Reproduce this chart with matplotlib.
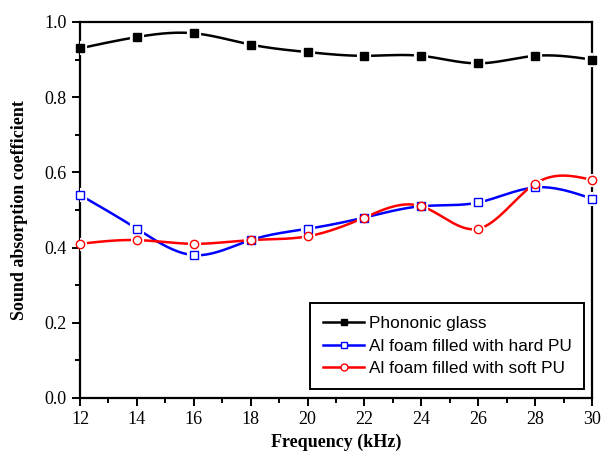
import numpy as np
import matplotlib.pyplot as plt
from matplotlib.ticker import MultipleLocator

freq = [12, 14, 16, 18, 20, 22, 24, 26, 28, 30]
phononic = [0.93, 0.96, 0.97, 0.94, 0.92, 0.91, 0.91, 0.89, 0.91, 0.90]
hard_pu = [0.54, 0.45, 0.38, 0.42, 0.45, 0.48, 0.51, 0.52, 0.56, 0.53]
soft_pu = [0.41, 0.42, 0.41, 0.42, 0.43, 0.48, 0.51, 0.45, 0.57, 0.58]


def spline(x, y, n=300):
    # natural cubic spline through the points, for the smooth connecting line
    x = np.asarray(x, float)
    y = np.asarray(y, float)
    h = np.diff(x)
    k = len(x)
    A = np.zeros((k, k))
    b = np.zeros(k)
    A[0, 0] = A[-1, -1] = 1
    for i in range(1, k - 1):
        A[i, i - 1] = h[i - 1]
        A[i, i] = 2 * (h[i - 1] + h[i])
        A[i, i + 1] = h[i]
        b[i] = 6 * ((y[i + 1] - y[i]) / h[i] - (y[i] - y[i - 1]) / h[i - 1])
    M = np.linalg.solve(A, b)
    xs = np.linspace(x[0], x[-1], n)
    idx = np.clip(np.searchsorted(x, xs) - 1, 0, k - 2)
    x0, x1 = x[idx], x[idx + 1]
    hh = x1 - x0
    ys = (M[idx] * (x1 - xs) ** 3 / (6 * hh) + M[idx + 1] * (xs - x0) ** 3 / (6 * hh)
          + (y[idx] / hh - M[idx] * hh / 6) * (x1 - xs)
          + (y[idx + 1] / hh - M[idx + 1] * hh / 6) * (xs - x0))
    return xs, ys


fig = plt.figure(figsize=(6.03, 4.63), dpi=100)
ax = fig.add_axes([0.1327, 0.1404, 0.8491, 0.8121])

series = [
    (phononic, 'black', 's', 'black', 'Phononic glass'),
    (hard_pu, 'blue', 's', 'white', 'Al foam filled with hard PU'),
    (soft_pu, 'red', 'o', 'white', 'Al foam filled with soft PU'),
]
handles = []
for vals, col, mk, face, lab in series:
    xs, ys = spline(freq, vals)
    ax.plot(xs, ys, color=col, lw=1.8, zorder=2)
    ax.plot(freq, vals, ls='none', marker=mk, ms=6.5, mfc=face, mec='white',
            mew=3, zorder=3)
    ax.plot(freq, vals, ls='none', marker=mk, ms=6, mfc=face, mec=col,
            mew=1, zorder=4, clip_on=False)
    h, = ax.plot([], [], color=col, lw=1.8, marker=mk, ms=5, mfc=face, mec=col, mew=1)
    handles.append((h, lab))

ax.set_xlim(12, 30)
ax.set_ylim(0, 1.0)
ax.xaxis.set_major_locator(MultipleLocator(2))
ax.xaxis.set_minor_locator(MultipleLocator(1))
ax.yaxis.set_major_locator(MultipleLocator(0.2))
ax.yaxis.set_minor_locator(MultipleLocator(0.1))
ax.yaxis.set_major_formatter(plt.FormatStrFormatter('%.1f'))

for s in ax.spines.values():
    s.set_linewidth(1.6)
ax.tick_params(which='both', direction='out', width=1.4, top=False, right=False)
ax.tick_params(which='major', length=6, labelsize=13)
ax.tick_params(which='minor', length=3.5)
for t in ax.get_xticklabels() + ax.get_yticklabels():
    t.set_fontfamily('Liberation Serif')

ax.set_xlabel('Frequency (kHz)', fontsize=13, fontweight='bold',
              fontfamily='Liberation Serif', labelpad=4)
ax.set_ylabel('Sound absorption coefficient', fontsize=13, fontweight='bold',
              fontfamily='Liberation Serif', labelpad=12)

leg = ax.legend([h for h, _ in handles], [l for _, l in handles],
                loc='lower right', bbox_to_anchor=(0.992, 0.015),
                prop={'family': 'Liberation Sans', 'size': 12.4},
                handlelength=2.4, handletextpad=0.25, labelspacing=0.42,
                borderpad=0.75, borderaxespad=0.2, fancybox=False, framealpha=1)
leg.get_frame().set_edgecolor('black')
leg.get_frame().set_linewidth(1.4)

fig.savefig('out.png', dpi=100)
